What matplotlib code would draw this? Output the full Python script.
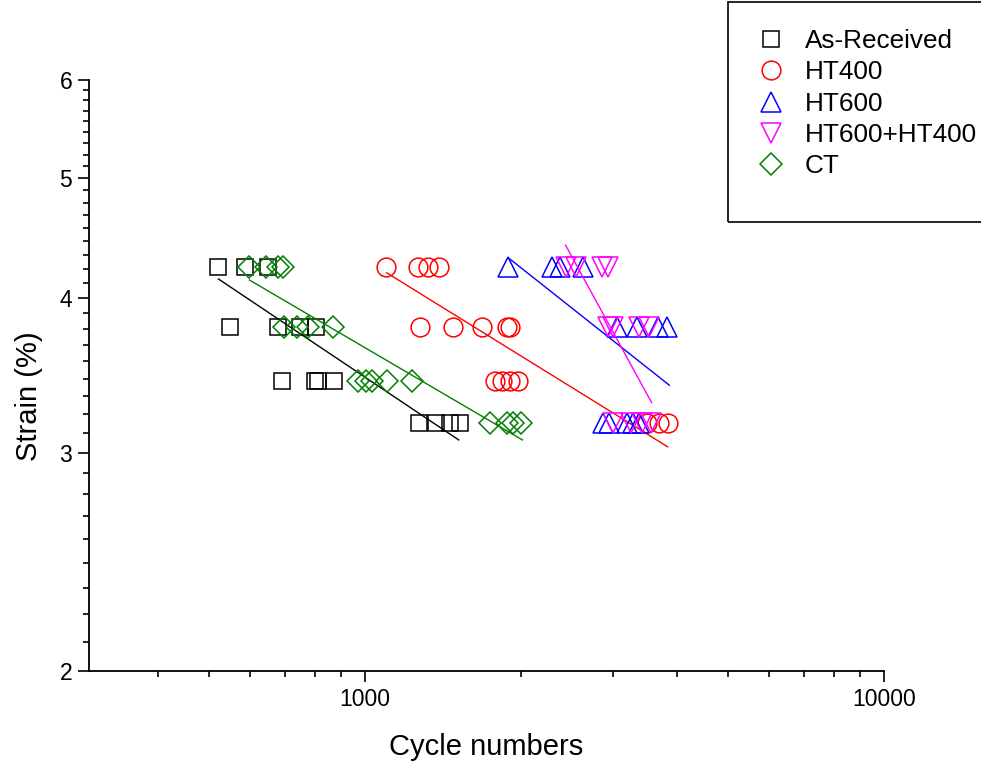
import numpy as np
import matplotlib
matplotlib.use('Agg')
import matplotlib.pyplot as plt
from matplotlib.ticker import FixedLocator, NullFormatter
from matplotlib.patches import Rectangle

plt.rcParams['font.family'] = ['Liberation Sans', 'DejaVu Sans']

# 데이터
ar_n = [522, 588, 650, 550, 680, 750, 805, 692, 800, 812, 872, 1270, 1370, 1460, 1523]
ar_s = [4.24, 4.24, 4.24, 3.79, 3.79, 3.79, 3.79, 3.43, 3.43, 3.43, 3.43, 3.17, 3.17, 3.17, 3.17]

ht400_n = [1097, 1264, 1322, 1388, 1276, 1476, 1679, 1875, 1900, 1778, 1834, 1900, 1969, 3500, 3690, 3840]
ht400_s = [4.24, 4.24, 4.24, 4.24, 3.79, 3.79, 3.79, 3.79, 3.79, 3.43, 3.43, 3.43, 3.43, 3.17, 3.17, 3.17]

ht600_n = [1884, 2289, 2371, 2626, 3065, 3336, 3675, 3826, 2869, 2946, 3204, 3290, 3380]
ht600_s = [4.24, 4.24, 4.24, 4.24, 3.79, 3.79, 3.79, 3.79, 3.17, 3.17, 3.17, 3.17, 3.17]

ht64_n = [2435, 2546, 2856, 2933, 2933, 2999, 3380, 3532, 2999, 3262, 3424, 3564]
ht64_s = [4.24, 4.24, 4.24, 4.24, 3.79, 3.79, 3.79, 3.79, 3.17, 3.17, 3.17, 3.17]

ct_n = [598, 645, 680, 696, 699, 740, 777, 868, 969, 1005, 1032, 1102, 1231, 1740, 1880, 1930, 2000]
ct_s = [4.24, 4.24, 4.24, 4.24, 3.79, 3.79, 3.79, 3.79, 3.43, 3.43, 3.43, 3.43, 3.43, 3.17, 3.17, 3.17, 3.17]

# 회귀선 양 끝점
ar_fit_n, ar_fit_s = [522, 1516], [4.145, 3.073]
ht400_fit_n, ht400_fit_s = [1101, 3831], [4.193, 3.034]
ht600_fit_n, ht600_fit_s = [1895, 3859], [4.307, 3.402]
ht64_fit_n, ht64_fit_s = [2435, 3568], [4.414, 3.293]
ct_fit_n, ct_fit_s = [599, 2011], [4.137, 3.073]

series = [
    ('As-Received', ar_n, ar_s, ar_fit_n, ar_fit_s, 's', 'black', 11.5),
    ('HT400', ht400_n, ht400_s, ht400_fit_n, ht400_fit_s, 'o', 'red', 13.5),
    ('HT600', ht600_n, ht600_s, ht600_fit_n, ht600_fit_s, '^', 'blue', 14.5),
    ('HT600+HT400', ht64_n, ht64_s, ht64_fit_n, ht64_fit_s, 'v', 'magenta', 14.5),
    ('CT', ct_n, ct_s, ct_fit_n, ct_fit_s, 'D', 'green', 11.5),
]

fig = plt.figure(figsize=(9.81, 7.62), dpi=100)
ax = fig.add_axes([89/981, 91/762, 795/981, 591/762])

handles = []
for name, n, s, fn, fs, mk, col, ms in series:
    h, = ax.plot(n, s, ls='none', marker=mk, ms=ms, mfc='none', mec=col, mew=1.1, label=name)
    ax.plot(fn, fs, color=col, lw=1.0)
    handles.append(h)

ax.set_xscale('log')
ax.set_yscale('log')
ax.set_xlim(294, 10000)
ax.set_ylim(2, 6)

ax.xaxis.set_major_locator(FixedLocator([1000, 10000]))
ax.xaxis.set_minor_locator(FixedLocator([400, 500, 600, 700, 800, 900] + list(range(2000, 10000, 1000))))
ax.set_xticklabels(['1000', '10000'])
ax.xaxis.set_minor_formatter(NullFormatter())

ax.yaxis.set_major_locator(FixedLocator([2, 3, 4, 5, 6]))
ax.set_yticklabels(['2', '3', '4', '5', '6'])
ax.yaxis.set_minor_locator(FixedLocator([m + k / 9 for m in range(2, 6) for k in range(1, 9)]))
ax.yaxis.set_minor_formatter(NullFormatter())

ax.spines['top'].set_visible(False)
ax.spines['right'].set_visible(False)
ax.spines['left'].set_linewidth(1.3)
ax.spines['bottom'].set_linewidth(1.3)
ax.tick_params(which='major', length=8, width=1.2, labelsize=16.5, pad=4)
ax.tick_params(which='minor', length=4.5, width=1.2)

ax.set_xlabel('Cycle numbers', fontsize=21, labelpad=16)
ax.set_ylabel('Strain (%)', fontsize=21)
ax.yaxis.set_label_coords(-0.058, 0.465)

# 범례 테두리
fig.patches.append(Rectangle((728/981, 540/762), 0.3, 220/762, transform=fig.transFigure,
                             fill=False, ec='black', lw=1.2))
fig.legend(handles=handles, loc='upper left', bbox_to_anchor=(737/981, 1 - 16/762),
           frameon=False, fontsize=18.8, handletextpad=0.5, labelspacing=0.28,
           borderpad=0, handlelength=1.6)

fig.savefig('out.png', dpi=100)
